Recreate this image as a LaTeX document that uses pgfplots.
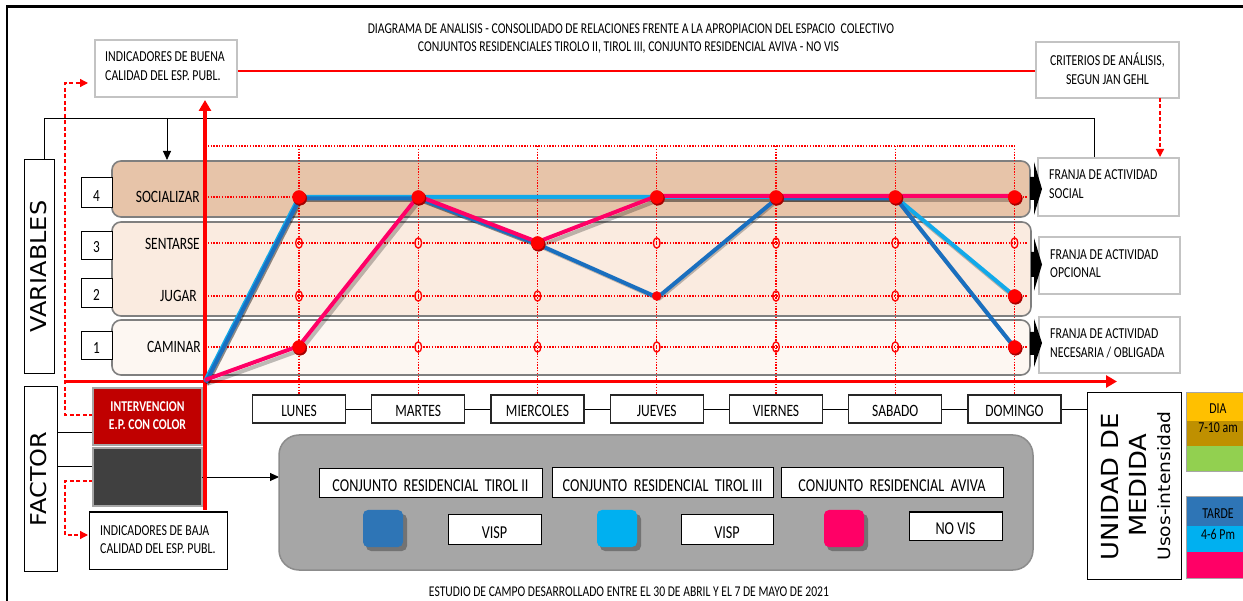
\documentclass[border=0pt]{standalone}
\usepackage{fontspec}
\setmainfont{Carlito}[FakeStretch=0.78]
\newfontfamily\dvsans{DejaVu Sans}[FakeStretch=1.1]
\usepackage{pgfplots}
\pgfplotsset{compat=1.18}
\usepackage{pgfplotstable}
\usetikzlibrary{arrows.meta}

\definecolor{bandA}{HTML}{E7C4A9}
\definecolor{bandB}{HTML}{FAEBE0}
\definecolor{bandC}{HTML}{FDF7F2}
\definecolor{bandedge}{HTML}{7F7F7F}
\definecolor{panel}{HTML}{A6A6A6}
\definecolor{paneledge}{HTML}{8C8C8C}
\definecolor{boxgray}{HTML}{C3C3C3}
\definecolor{tirolII}{HTML}{1A6FBF}
\definecolor{tirolIII}{HTML}{12A9E9}
\definecolor{aviva}{HTML}{FF0066}
\definecolor{swII}{HTML}{2E75B6}
\definecolor{swIII}{HTML}{00B0F0}
\definecolor{interv}{HTML}{C00000}
\definecolor{darkbox}{HTML}{404040}
\definecolor{diaA}{HTML}{FFC000}
\definecolor{diaB}{HTML}{BF9000}
\definecolor{diaC}{HTML}{92D050}
\definecolor{tardeA}{HTML}{2E75B6}
\definecolor{tardeB}{HTML}{00B0F0}
\definecolor{tardeC}{HTML}{FF0066}

\newcommand\fs[1]{\fontsize{#1}{#1}\selectfont}

% level of each variable (1 caminar ... 4 socializar) per day (1 lunes ... 7 domingo);
% every series starts at the origin of the two axes
\pgfplotstableread{
day level
0 0
1 4
2 4
3 3
4 2
5 4
6 4
7 1
}\tirolIIdata
\pgfplotstableread{
day level
0 0
1 4
2 4
3 4
4 4
5 4
6 4
7 2
}\tirolIIIdata
\pgfplotstableread{
day level
0 0
1 1
2 4
3 3
4 4
5 4
6 4
7 4
}\avivadata
% observed points on the grid
\pgfplotstableread{
day level
1 4
1 1
2 4
3 3
4 4
5 4
6 4
7 4
7 2
7 1
}\dotsbig
\pgfplotstableread{
day level
4 2
}\dotssmall
% grid crossings with no observation
\pgfplotstableread{
day level
1 3
1 2
2 3
2 2
2 1
3 2
3 1
4 3
4 1
5 3
5 2
5 1
6 3
6 2
6 1
7 3
}\rings

\tikzset{
  rdot/.style={red, line width=1.1pt, dash pattern=on 1.4pt off 1.4pt},
  rdash/.style={red, line width=1.3pt, dash pattern=on 4pt off 2.5pt},
  gbox/.style={draw=boxgray, line width=1.3pt, fill=white},
  kbox/.style={draw=black, line width=1pt, fill=white},
}

\begin{document}
\begin{tikzpicture}[x=1pt,y=1pt, every node/.style={inner sep=0pt}]
\useasboundingbox (0,0) rectangle (1243,-601);
\fill[white] (0,0) rectangle (1243,-601);

% frame
\draw[line width=2.2pt] (7,-601) -- (7,-6.5) -- (1243,-6.5);

% headline
\node[anchor=base, font=\fs{15}] at (631,-33.5) {DIAGRAMA DE ANALISIS - CONSOLIDADO DE RELACIONES FRENTE A LA APROPIACION DEL ESPACIO\ \ COLECTIVO};
\node[anchor=base, font=\fs{15}] at (628.5,-52) {CONJUNTOS RESIDENCIALES TIROLO II, TIROL III, CONJUNTO RESIDENCIAL AVIVA - NO VIS};

% criteria boxes on top
\draw[red, line width=1.2pt] (237,-71) -- (1036,-71);
\draw[gbox] (95,-40) rectangle (237,-97);
\node[anchor=base west, font=\fs{15.2}] at (105,-62) {INDICADORES DE BUENA};
\node[anchor=base west, font=\fs{15.2}] at (105,-80.5) {CALIDAD DEL ESP. PUBL.};
\draw[gbox] (1036,-42) rectangle (1179,-98);
\node[anchor=base, font=\fs{15.2}] at (1107.5,-66) {CRITERIOS DE ANÁLISIS,};
\node[anchor=base, font=\fs{15.2}] at (1107.5,-85) {SEGUN JAN GEHL};
\draw[rdash, -{Triangle[length=8pt,width=8pt]}] (1160,-98) -- (1160,-157);

% connector over the variables
\draw[black, line width=0.9pt] (44,-160) -- (44,-118) -- (1094,-118) -- (1094,-158);
\draw[black, line width=0.9pt, -{Triangle[length=9pt,width=8pt]}] (167,-118) -- (167,-160);

% VARIABLES
\draw[kbox] (24,-160) rectangle (54,-374);
\node[anchor=base, rotate=90, font=\dvsans\fs{21.8}] at (46.5,-266.5) {VARIABLES};

% bands
\draw[bandedge, line width=1.6pt, fill=bandA, rounded corners=9pt] (112,-161) rectangle (1030,-217);
\draw[bandedge, line width=1.6pt, fill=bandB, rounded corners=9pt] (112,-222) rectangle (1031,-316);
\draw[bandedge, line width=1.6pt, fill=bandC, rounded corners=9pt] (112,-320) rectangle (1030,-375);

% level boxes
\foreach \yt/\yb/\yl/\n in {178/208/201.7/4, 232/260/252.7/3, 279/308/300.7/2, 332/360/353.3/1}{
  \draw[kbox] (81,-\yt) rectangle (112,-\yb);
  \node[anchor=base, font=\fs{17}] at (96.5,-\yl) {\n};
}
\node[anchor=base east, font=\fs{17.3}] at (200,-203) {SOCIALIZAR};
\node[anchor=base east, font=\fs{17.3}] at (200,-249.5) {SENTARSE};
\node[anchor=base east, font=\fs{17.3}] at (197,-302) {JUGAR};
\node[anchor=base east, font=\fs{17.3}] at (201,-353) {CAMINAR};

% dotted reference grid
\draw[rdot] (205,-146) -- (1014.5,-146);
\foreach \x in {299,418.25,537.5,656.75,776,895.25,1014.5}
  \draw[rdot] (\x,-146) -- (\x,-395);
\foreach \y in {197,243,296,347}
  \draw[rdot] (205,-\y) -- (1028,-\y);

% activity strips
\draw[gbox] (1038,-158) rectangle (1179,-216);
\node[anchor=base west, font=\fs{15.2}] at (1049,-180) {FRANJA DE ACTIVIDAD};
\node[anchor=base west, font=\fs{15.2}] at (1049,-198.5) {SOCIAL};
\draw[gbox] (1039,-237) rectangle (1180,-294);
\node[anchor=base west, font=\fs{15.2}] at (1050,-259.3) {FRANJA DE ACTIVIDAD};
\node[anchor=base west, font=\fs{15.2}] at (1050,-277.5) {OPCIONAL};
\draw[gbox] (1039,-317) rectangle (1180,-373);
\node[anchor=base west, font=\fs{15.2}] at (1050,-339) {FRANJA DE ACTIVIDAD};
\node[anchor=base west, font=\fs{15.2}] at (1050,-357.5) {NECESARIA / OBLIGADA};

% block arrows towards the activity strips
\fill[black] (1030,-177) -- (1034,-177) -- (1034,-162) -- (1042,-189) -- (1034,-215) -- (1034,-200) -- (1030,-200) -- cycle;
\fill[black] (1031,-252) -- (1034,-252) -- (1034,-238) -- (1042,-264.5) -- (1034,-291) -- (1034,-277) -- (1031,-277) -- cycle;
\fill[black] (1030,-332) -- (1034,-332) -- (1034,-319) -- (1042,-343) -- (1034,-367) -- (1034,-355) -- (1030,-355) -- cycle;

% FACTOR
\draw[kbox] (24,-387) rectangle (57,-571);
\node[anchor=base, rotate=90, font=\dvsans\fs{21.8}] at (46.5,-479) {FACTOR};
\draw[black, line width=0.9pt] (57,-432) -- (97,-432);
\draw[black, line width=0.9pt] (57,-466) -- (97,-466);
\draw[rdash, -{Triangle[length=8pt,width=8pt]}] (93,-415) -- (65,-415) -- (65,-83) -- (88,-83);
\draw[rdash, -{Triangle[length=8pt,width=8pt]}] (93,-481) -- (65,-481) -- (65,-535) -- (88,-535);
\draw[draw=gray!70, line width=1.3pt, fill=interv] (93,-388) rectangle (202,-445);
\node[anchor=base, font=\bfseries\fs{15}, text=white] at (147.5,-412) {INTERVENCION};
\node[anchor=base, font=\bfseries\fs{15}, text=white] at (147.5,-430) {E.P. CON COLOR};
\draw[draw=gray!70, line width=1.3pt, fill=darkbox] (93,-448) rectangle (202,-506);
\draw[kbox] (89,-512) rectangle (227,-569);
\node[anchor=base west, font=\fs{15.2}] at (100,-535) {INDICADORES DE BAJA};
\node[anchor=base west, font=\fs{15.2}] at (100,-553.5) {CALIDAD DEL ESP. PUBL.};

% legend panel
\draw[black, line width=0.9pt, -{Triangle[length=9pt,width=8pt]}] (202,-477) -- (279,-477);
\draw[paneledge, line width=1.5pt, fill=panel, rounded corners=20pt] (279,-435) rectangle (1033,-570);
\draw[kbox] (319,-469) rectangle (542,-498);
\node[anchor=base, font=\fs{18.2}] at (430.5,-492) {CONJUNTO\ \ RESIDENCIAL\ \ TIROL II};
\draw[kbox] (552,-468) rectangle (773,-498);
\node[anchor=base, font=\fs{18.2}] at (662.5,-492) {CONJUNTO\ \ RESIDENCIAL\ \ TIROL III};
\draw[kbox] (781,-468) rectangle (1003,-498);
\node[anchor=base, font=\fs{18.2}] at (892,-492) {CONJUNTO\ \ RESIDENCIAL\ \ AVIVA};
\foreach \xa/\c in {363/swII, 597/swIII, 824/aviva}{
  \fill[black, opacity=0.3, rounded corners=5pt] (\xa+3,-514) rectangle (\xa+44,-551);
  \fill[\c, rounded corners=5pt] (\xa,-510) rectangle (\xa+40,-547);
}
\draw[kbox] (448,-514) rectangle (541,-544);
\node[anchor=base, font=\fs{18.2}] at (494.5,-538) {VISP};
\draw[kbox] (681,-514) rectangle (773,-544);
\node[anchor=base, font=\fs{18.2}] at (727,-538) {VISP};
\draw[kbox] (909,-512) rectangle (1002,-540);
\node[anchor=base, font=\fs{18.2}] at (955.5,-534) {NO VIS};

% days
\draw[black, line width=0.9pt] (346,-409) -- (1087,-409);
\foreach \x/\d in {299/LUNES, 418.25/MARTES, 537.5/MIERCOLES, 656.75/JUEVES, 776/VIERNES, 895.25/SABADO, 1014.5/DOMINGO}{
  \draw[draw=black!85, line width=1.2pt, fill=white] (\x-46.5,-395) rectangle (\x+46.5,-423);
  \node[anchor=base, font=\fs{17.3}] at (\x,-417) {\d};
}

% unit of measure
\draw[kbox] (1087,-393) rectangle (1181,-579);
\node[anchor=base, rotate=90, font=\dvsans\fs{23.5}] at (1118.5,-486.5) {UNIDAD DE};
\node[anchor=base, rotate=90, font=\dvsans\fs{23.5}] at (1146.5,-485) {MEDIDA};
\node[anchor=base, rotate=90, font=\dvsans\fs{17}] at (1170,-486) {Usos-intensidad};
\fill[diaA] (1186,-393) rectangle (1250,-421);
\fill[diaB] (1186,-421) rectangle (1250,-446);
\fill[diaC] (1186,-446) rectangle (1250,-472);
\draw[gray!70, line width=1pt] (1186,-393) rectangle (1250,-472);
\node[anchor=base, font=\fs{15.2}] at (1218,-413.5) {DIA};
\node[anchor=base, font=\fs{15.2}] at (1218,-433) {7-10 am};
\fill[tardeA] (1186,-497) rectangle (1250,-526);
\fill[tardeB] (1186,-526) rectangle (1250,-552);
\fill[tardeC] (1186,-552) rectangle (1250,-578);
\draw[gray!70, line width=1pt] (1186,-497) rectangle (1250,-578);
\node[anchor=base, font=\fs{15.2}] at (1218,-518.5) {TARDE};
\node[anchor=base, font=\fs{15.2}] at (1218,-539.5) {4-6 Pm};

% footnote
\node[anchor=base, font=\fs{14.9}] at (629,-596) {ESTUDIO DE CAMPO DESARROLLADO ENTRE EL 30 DE ABRIL Y EL 7 DE MAYO DE 2021};

% main axes
\draw[red, line width=3.2pt, -{Triangle[length=11pt,width=12pt]}] (205,-510) -- (205,-100);
\draw[red, line width=3.2pt, -{Triangle[length=11pt,width=12pt]}] (65,-381.5) -- (1117,-381.5);

\begin{axis}[
  at={(205pt,-381pt)}, anchor=south west,
  scale only axis, width=809.5pt, height=184pt,
  hide axis, clip=false,
  xmin=0, xmax=7, ymin=0, ymax=4,
  xtick=\empty, ytick=\empty,
  x coord trafo/.code={\pgfmathparse{(#1<1)?(94*#1):(94+119.25*(#1-1))}},
  y coord trafo/.code={\pgfmathparse{(#1<1)?(34*#1):((#1<2)?(34+51*(#1-1)):((#1<3)?(85+53*(#1-2)):(138+46*(#1-3))))}},
]
% soft shadows under the series
\addplot[black, opacity=0.25, line width=4pt, line join=round, xshift=2pt, yshift=-3pt] table {\tirolIIIdata};
\addplot[black, opacity=0.25, line width=4pt, line join=round, xshift=2pt, yshift=-3pt] table {\tirolIIdata};
\addplot[black, opacity=0.25, line width=4pt, line join=round, xshift=2pt, yshift=-3pt] table {\avivadata};
% grid observations
\addplot[only marks, mark=*, mark size=6.8pt, color=red!65!black, xshift=1pt, yshift=-1.5pt] table {\dotsbig};
\addplot[only marks, mark=*, mark size=6.5pt, color=red] table {\dotsbig};
\addplot[only marks, mark=*, mark size=4.5pt, color=red] table {\dotssmall};
\addplot[only marks, mark=o, mark size=5.2pt, color=red, mark options={xscale=0.65, line width=1.3pt}] table {\rings};
% series
\addplot[tirolIII, line width=4pt, line join=round] table {\tirolIIIdata};
\addplot[tirolII, line width=4pt, line join=round, xshift=0.8pt, yshift=-1.5pt] table {\tirolIIdata};
\addplot[aviva, line width=4pt, line join=round, yshift=1pt] table {\avivadata};
\end{axis}
\end{tikzpicture}
\end{document}
